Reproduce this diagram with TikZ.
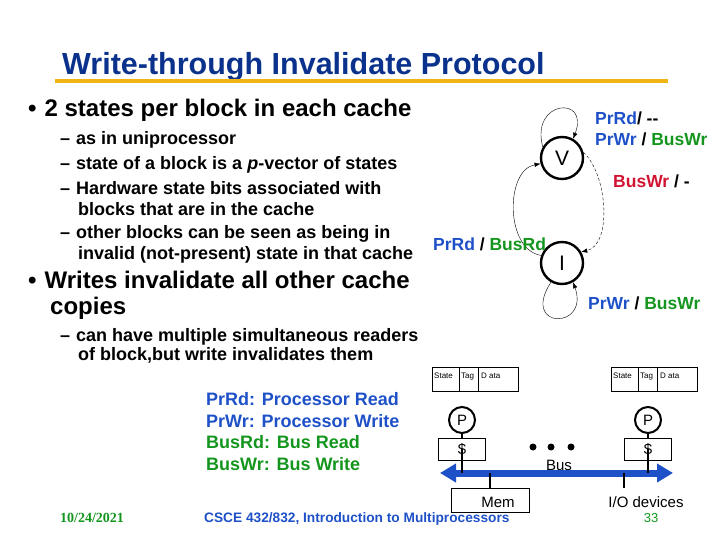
\documentclass[tikz,border=0pt]{standalone}
\usepackage{fontspec}
\setmainfont{Liberation Sans}
\newfontfamily\serifdate{Liberation Serif}
\usepackage{tikz}
\usetikzlibrary{arrows.meta}
\definecolor{prc}{RGB}{30,80,200}
\definecolor{busc}{RGB}{20,150,30}
\definecolor{redc}{RGB}{210,20,50}
\definecolor{titlec}{RGB}{10,50,140}
\definecolor{barc}{RGB}{240,180,20}
\tikzset{state/.style={circle,draw=black,line width=2.4pt,minimum size=42pt,inner sep=0,font=\fontsize{21}{21}\selectfont},
  proc/.style={circle,draw=black,line width=2pt,minimum size=26pt,inner sep=0,font=\fontsize{15}{15}\selectfont},
  hw/.style={draw=black,line width=0.8pt},
  big/.style={anchor=base west,inner sep=0,font=\fontsize{24}{24}\selectfont\bfseries},
  item/.style={anchor=base west,inner sep=0,font=\fontsize{18}{18}\selectfont\bfseries},
  lab/.style={anchor=base west,inner sep=0,font=\fontsize{17.5}{17.5}\selectfont\bfseries},
  cell/.style={anchor=base west,inner sep=0,font=\fontsize{8}{8}\selectfont}}
\def\prT#1{\textcolor{prc}{#1}}
\def\busT#1{\textcolor{busc}{#1}}

\begin{document}
\begin{tikzpicture}[x=1pt,y=-1pt]
          \useasboundingbox (0,0) rectangle (720,540);

          %タイトル
          \node[anchor=base west,inner sep=0,text=titlec,font=\fontsize{30.5}{30.5}\selectfont\bfseries] (title) at (62,75) {Write-through Invalidate Protocol};
          \fill[barc] (55,79) rectangle (668,83);

          %本文
          \node[big] (b1) at (28,117) {\textbullet\hspace{8pt}2 states per block in each cache};
          \node[item] (s1) at (60,145) {--\hspace{6pt}as in uniprocessor};
          \node[item] (s2) at (60,170) {--\hspace{6pt}state of a block is a \textit{p}-vector of states};
          \node[item] (s3) at (60,195) {--\hspace{6pt}Hardware state bits associated with};
          \node[item] (s3b) at (78,215) {blocks that are in the cache};
          \node[item] (s4) at (60,239) {--\hspace{6pt}other blocks can be seen as being in};
          \node[item] (s4b) at (78,259) {invalid (not-present) state in that cache};
          \node[big] (b2) at (28,288) {\textbullet\hspace{8pt}Writes invalidate all other cache};
          \node[big] (b2b) at (50,314) {copies};
          \node[item] (s5) at (60,341) {--\hspace{6pt}can have multiple simultaneous readers};
          \node[item] (s5b) at (78,360) {of block,but write invalidates them};

          %凡例
          \node[item] (l1) at (206,405) {\prT{PrRd: Processor Read}};
          \node[item] (l2) at (206,427) {\prT{PrWr: Processor Write}};
          \node[item] (l3) at (206,448) {\busT{BusRd: Bus Read}};
          \node[item] (l4) at (206,470) {\busT{BusWr: Bus Write}};

          %フッタ
          \node[anchor=base west,inner sep=0,text=busc,font=\fontsize{14}{14}\selectfont\serifdate\bfseries] (date) at (60,522) {10/24/2021};
          \node[anchor=base west,inner sep=0,text=prc,font=\fontsize{13.7}{13.7}\selectfont\bfseries] (foot) at (204,522) {CSCE 432/832, Introduction to Multiprocessors};
          \node[anchor=base,inner sep=0,text=busc,font=\fontsize{13}{13}\selectfont] (page) at (651,522) {33};

          %状態遷移図
          \node[state] (V) at (562,158) {V};
          \node[state] (I) at (562,263) {I};
          \draw[-{Latex[length=6pt]}] (V.150) .. controls (530,100) and (590,95) .. (V.60);
          \draw[densely dashed,-{Latex[length=6pt]}] (V.15) .. controls (608,175) and (612,245) .. (I.30);
          \draw[-{Latex[length=6pt]}] (I.160) .. controls (505,250) and (505,170) .. (V.195);
          \draw[-{Latex[length=6pt]}] (I.240) .. controls (520,330) and (590,330) .. (I.300);
          \node[lab] (vl1) at (595,125) {\prT{PrRd}/ {-}{-}};
          \node[lab] (vl2) at (595,146) {\prT{PrWr} / \busT{BusWr}};
          \node[lab] (vl3) at (613,188) {\textcolor{redc}{BusWr} / -};
          \node[lab] (il1) at (433,250) {\prT{PrRd} / \busT{BusRd}};
          \node[lab] (il2) at (588,309) {\prT{PrWr} / \busT{BusWr}};

          %ハードウェア
          \foreach \n/\x in {L/432,R/611}{
            \draw[hw] (\x,367) rectangle ++(86,24);
            \draw[hw] (\x+27,367) -- ++(0,24) (\x+46,367) -- ++(0,24);
            \node[cell] (st\n) at (\x+2,378) {State};
            \node[cell] (tg\n) at (\x+29,378) {Tag};
            \node[cell] (dt\n) at (\x+49,378) {D ata};
          }
          \node[proc] (PL) at (462,420) {P};
          \node[proc] (PR) at (648,420) {P};
          \node[hw,minimum width=47pt,minimum height=22pt,inner sep=0,font=\fontsize{15}{15}\selectfont] (CL) at (462,449) {\$};
          \node[hw,minimum width=47pt,minimum height=22pt,inner sep=0,font=\fontsize{15}{15}\selectfont] (CR) at (648,449) {\$};
          \coordinate (busL) at (440,473);
          \coordinate (busR) at (673,473);
          \draw[prc,line width=7pt,{Triangle[width=18pt,length=16pt]}-{Triangle[width=18pt,length=16pt]}] (busL) -- (busR);
          \node[anchor=base,inner sep=0,font=\fontsize{15}{15}\selectfont] (bus) at (559,470) {Bus};
          \foreach \x in {533,551,571} \fill (\x,447) circle (3.5pt);
          \draw[line width=2pt] (PL) -- (CL.north) (CL.center) -- (462,473);
          \draw[line width=2pt] (PR) -- (CR.north) (CR.center) -- (648,473);
          \node[hw,anchor=north,minimum width=78pt,minimum height=24pt,inner sep=0] (mem) at (490,488) {};
          \node[anchor=base,inner sep=0,font=\fontsize{15}{15}\selectfont] (memt) at (498,507) {Mem};
          \draw[line width=2pt] (490,473) -- (mem.north);
          \node[anchor=base,inner sep=0,font=\fontsize{15}{15}\selectfont] (io) at (646,507) {I/O devices};
          \draw[line width=2pt] (624,473) -- (624,488);
        \end{tikzpicture}
\end{document}
